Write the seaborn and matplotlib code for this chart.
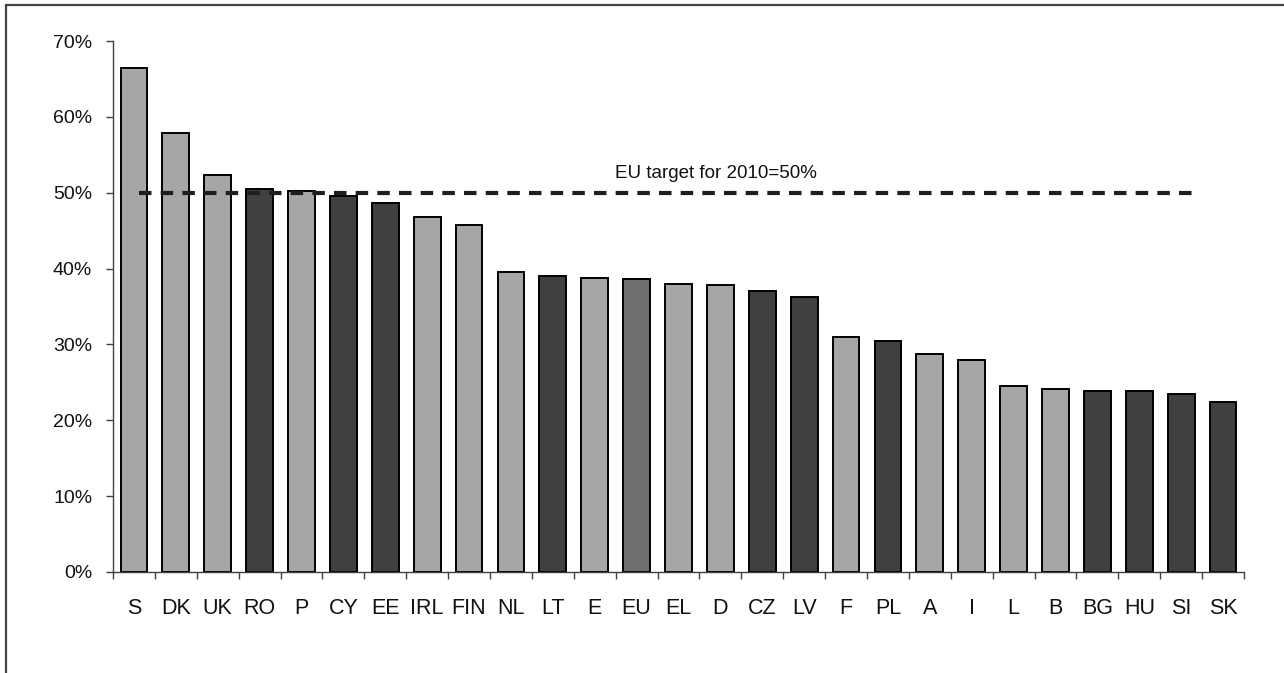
import matplotlib
matplotlib.use("Agg")
import matplotlib.pyplot as plt
from matplotlib.patches import Rectangle
from matplotlib.ticker import FixedLocator, FuncFormatter
import seaborn as sns
import pandas as pd

# Country codes, ordered by share
countries = ["S", "DK", "UK", "RO", "P", "CY", "EE", "IRL", "FIN", "NL", "LT", "E", "EU",
             "EL", "D", "CZ", "LV", "F", "PL", "A", "I", "L", "B", "BG", "HU", "SI", "SK"]
shares = [66.5, 57.9, 52.4, 50.5, 50.2, 49.6, 48.7, 46.8, 45.8, 39.6, 39.0, 38.8, 38.6,
          38.0, 37.8, 37.0, 36.3, 31.0, 30.5, 28.7, 27.9, 24.5, 24.1, 23.8, 23.8, 23.4, 22.4]
# Group of each country: "old" member states, "new" member states, EU average
groups = ["old", "old", "old", "new", "old", "new", "new", "old", "old", "old", "new", "old", "eu",
          "old", "old", "new", "new", "old", "new", "old", "old", "old", "old", "new", "new", "new", "new"]
target = 50.0
target_label = "EU target for 2010=50%"
y_ticks = [0, 10, 20, 30, 40, 50, 60, 70]

group_colors = {"old": "#a6a6a6", "new": "#404040", "eu": "#6e6e6e"}

sns.set_theme(style="white")
plt.rcParams["font.family"] = ["Liberation Sans", "DejaVu Sans"]

df = pd.DataFrame({"country": countries, "share": shares, "group": groups})
bar_palette = [group_colors[g] for g in groups]

fig = plt.figure(figsize=(12.84, 6.73), dpi=100)
ax = fig.add_axes([113 / 1284, 1 - 572 / 673, (1244 - 113) / 1284, (572 - 41) / 673])

sns.barplot(data=df, x="country", y="share", hue="country", palette=bar_palette,
            legend=False, width=0.64, edgecolor="black", linewidth=1.4,
            saturation=1, ax=ax)

# Target line
ax.plot([0.13, 25.42], [target, target], color="#1e1e1e", lw=3,
        ls=(0, (3.0, 2.2)), solid_capstyle="butt", dash_capstyle="butt")
ax.text(13.9, 51.9, target_label, ha="center", va="baseline", fontsize=13.5, color="#111111")

ax.set_xlim(-0.5, len(countries) - 0.5)
ax.set_ylim(0, 70)
ax.set_xlabel("")
ax.set_ylabel("")

ax.yaxis.set_major_locator(FixedLocator(y_ticks))
ax.yaxis.set_major_formatter(FuncFormatter(lambda v, p: f"{v:.0f}%"))

# Ticks between categories, labels centred under bars
ax.xaxis.set_minor_locator(FixedLocator([i - 0.5 for i in range(len(countries) + 1)]))
ax.tick_params(axis="x", which="major", length=0, pad=19, labelsize=15.5, labelcolor="#111111")
ax.tick_params(axis="x", which="minor", length=5, width=1, color="#404040", direction="out", bottom=True)
ax.tick_params(axis="y", which="major", length=5, width=1, color="#404040", direction="out",
               left=True, pad=10, labelsize=14, labelcolor="#111111")

for side in ["top", "right"]:
    ax.spines[side].set_visible(False)
for side in ["left", "bottom"]:
    ax.spines[side].set_color("#404040")
    ax.spines[side].set_linewidth(1)
ax.grid(False)

# Outer frame of the figure panel
fig.patches.append(Rectangle((6 / 1284, -0.05), 1.2, 1.05 - 5 / 673, transform=fig.transFigure,
                             fill=False, edgecolor="#444444", linewidth=1.6))

fig.savefig("out.png", dpi=100, facecolor="white")
